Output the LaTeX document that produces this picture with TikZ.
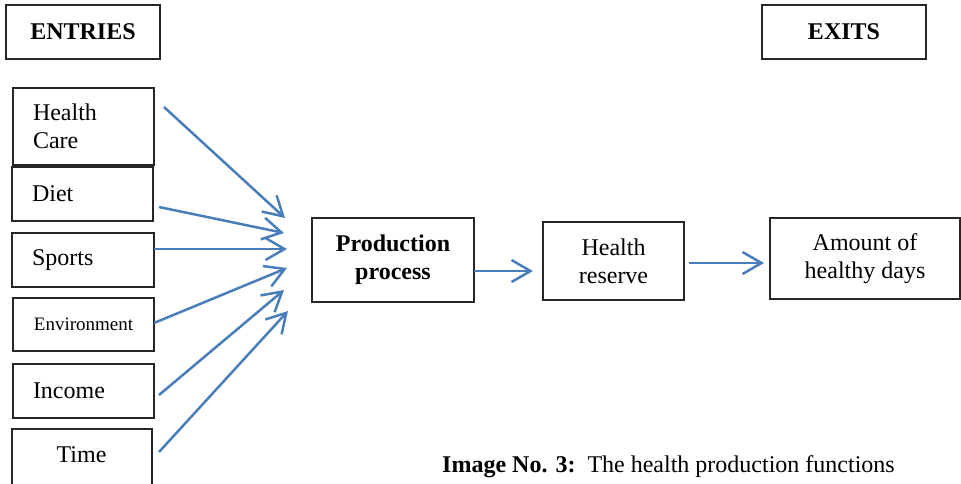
\documentclass[tikz,border=0pt]{standalone}
\usepackage{fontspec}
\setmainfont{Liberation Serif}
\usetikzlibrary{arrows.meta}
\definecolor{arrowblue}{HTML}{4A7EBB}
\tikzset{
  txt/.style={font=\fontsize{24}{28}\selectfont, inner sep=0pt},
  box/.style={draw=black!85, line width=1.3pt, inner ysep=0pt, txt},
  lbox/.style={box, align=left, inner xsep=20pt},
  cbox/.style={box, align=center, inner xsep=0pt},
  flow/.style={draw=arrowblue, line width=2.5pt, -{Straight Barb[length=19pt,width=22pt]}},
}
\begin{document}
\begin{tikzpicture}[x=1pt,y=-1pt]
\useasboundingbox (0,0) rectangle (961,483);
\clip (0,0) rectangle (961,483);
% header boxes
\node[cbox, minimum width=154pt, minimum height=54pt] (entries) at (83,32) {\textbf{ENTRIES}};
\node[cbox, minimum width=164pt, minimum height=54pt] (exits) at (844,32) {\textbf{EXITS}};
% input boxes
\node[lbox, text width=101pt, minimum height=77pt] (care) at (83.5,126.5) {Health\\Care};
\node[lbox, text width=101pt, minimum height=54pt] (diet) at (82.5,194) {Diet};
\node[lbox, text width=102pt, minimum height=54pt] (sports) at (83,260) {Sports};
\node[cbox, minimum width=141pt, minimum height=53pt, font=\fontsize{19}{22}\selectfont] (env) at (83.5,324.5) {Environment};
\node[lbox, text width=101pt, minimum height=54pt] (income) at (83.5,391) {Income};
\node[box, minimum width=140pt, minimum height=80pt] (time) at (82,469) {};
\node[txt, anchor=base] (timet) at (81.5,462) {Time};
% process chain
\node[cbox, minimum width=162pt, minimum height=84pt] (prod) at (393,260) {\textbf{Production}\\\textbf{process}};
\node[cbox, minimum width=141pt, minimum height=78pt] (reserve) at (613.5,261) {Health\\reserve};
\node[cbox, minimum width=190pt, minimum height=81pt] (amount) at (865,258.5) {Amount of\\healthy days};
% arrow end points
\coordinate (s1) at (164,107);  \coordinate (e1) at (285,218);
\coordinate (s2) at (159,207);  \coordinate (e2) at (284,233);
\coordinate (s3) at (154,249);  \coordinate (e3) at (287,249);
\coordinate (s4) at (154,323);  \coordinate (e4) at (287,268);
\coordinate (s5) at (159,395);  \coordinate (e5) at (284,290);
\coordinate (s6) at (159,452);  \coordinate (e6) at (288,311);
\coordinate (s7) at (474,271);  \coordinate (e7) at (533,271);
\coordinate (s8) at (689,263);  \coordinate (e8) at (764,263);
\foreach \i in {1,...,8} { \draw[flow] (s\i) -- (e\i); }
% caption
\node[txt, anchor=base west] (caption) at (442,472) {\textbf{Image No. 3:}\hspace{12pt}The health production functions};
\end{tikzpicture}
\end{document}
